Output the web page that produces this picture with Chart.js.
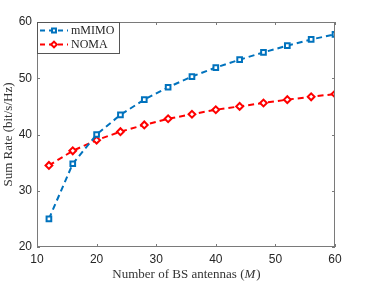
<!DOCTYPE html>
<html>
<head>
<meta charset="utf-8">
<script src="https://cdn.jsdelivr.net/npm/chart.js@4/dist/chart.umd.min.js"></script>
<style>
  html, body { margin: 0; padding: 0; background: #fff; }
  #rateChart { display: block; }
</style>
</head>
<body>
<canvas id="rateChart" width="371" height="283"></canvas>
<script>
// Sum rate vs number of BS antennas
const antennas = [12, 16, 20, 24, 28, 32, 36, 40, 44, 48, 52, 56, 60];
const mmimoRate = [25.0, 34.8, 40.0, 43.5, 46.2, 48.4, 50.3, 51.9, 53.3, 54.6, 55.8, 56.9, 57.8];
const nomaRate = [34.5, 37.1, 39.0, 40.5, 41.7, 42.8, 43.6, 44.4, 45.0, 45.6, 46.2, 46.7, 47.2];
const seriesNames = ['mMIMO', 'NOMA'];
const xTickValues = [10, 20, 30, 40, 50, 60];
const yTickValues = [20, 30, 40, 50, 60];

const axisColor = '#7a7a7a';
const labelColor = '#262626';
const serif = '"Liberation Serif", "DejaVu Serif", serif';

function toPoints(values) {
    return antennas.map((m, i) => ({ x: m, y: values[i] }));
}

// box, inside ticks, axis titles and legend
const framePlugin = {
    id: 'frame',
    afterDraw(chart) {
        const ctx = chart.ctx;
        const area = chart.chartArea;
        const xs = chart.scales.x;
        const ys = chart.scales.y;

        ctx.save();
        ctx.strokeStyle = axisColor;
        ctx.lineWidth = 1;
        ctx.strokeRect(area.left + 0.5, area.top + 0.5, area.right - area.left - 1, area.bottom - area.top - 1);

        ctx.beginPath();
        xTickValues.forEach(v => {
            const px = Math.round(xs.getPixelForValue(v)) + 0.5;
            ctx.moveTo(px, area.bottom);
            ctx.lineTo(px, area.bottom - 3);
            ctx.moveTo(px, area.top);
            ctx.lineTo(px, area.top + 3);
        });
        yTickValues.forEach(v => {
            const py = Math.round(ys.getPixelForValue(v)) + 0.5;
            ctx.moveTo(area.left, py);
            ctx.lineTo(area.left + 3, py);
            ctx.moveTo(area.right, py);
            ctx.lineTo(area.right - 3, py);
        });
        ctx.stroke();

        // x title with italic M
        ctx.fillStyle = '#333';
        ctx.textBaseline = 'middle';
        ctx.textAlign = 'left';
        const normalFont = '13px ' + serif;
        const italicFont = 'italic 13px ' + serif;
        const partA = 'Number of BS antennas (';
        const partB = 'M';
        const partC = ')';
        ctx.font = normalFont;
        const wA = ctx.measureText(partA).width;
        const wC = ctx.measureText(partC).width;
        ctx.font = italicFont;
        const wB = ctx.measureText(partB).width;
        let tx = (area.left + area.right) / 2 - (wA + wB + wC) / 2;
        const ty = 275;
        ctx.font = normalFont;
        ctx.fillText(partA, tx, ty);
        ctx.font = italicFont;
        ctx.fillText(partB, tx + wA, ty);
        ctx.font = normalFont;
        ctx.fillText(partC, tx + wA + wB + 1, ty);

        // y title
        ctx.save();
        ctx.translate(9, (area.top + area.bottom) / 2);
        ctx.rotate(-Math.PI / 2);
        ctx.textAlign = 'center';
        ctx.font = normalFont;
        ctx.fillText('Sum Rate (bit/s/Hz)', 0, 0);
        ctx.restore();

        // legend box
        const lx = area.left, ly = area.top;
        const lw = 82, lh = 31;
        ctx.fillStyle = '#fff';
        ctx.fillRect(lx + 0.5, ly + 0.5, lw, lh);
        ctx.strokeStyle = '#555';
        ctx.strokeRect(lx + 0.5, ly + 0.5, lw, lh);

        chart.data.datasets.forEach((ds, i) => {
            const rowY = ly + 8.5 + i * 14;
            ctx.save();
            ctx.strokeStyle = ds.borderColor;
            ctx.lineWidth = ds.borderWidth;
            ctx.setLineDash([5, 4]);
            ctx.beginPath();
            ctx.moveTo(lx + 3, rowY);
            ctx.lineTo(lx + 31, rowY);
            ctx.stroke();
            ctx.restore();

            ctx.save();
            ctx.strokeStyle = ds.pointBorderColor;
            ctx.fillStyle = ds.pointBackgroundColor;
            ctx.lineWidth = ds.pointBorderWidth;
            Chart.helpers.drawPoint(ctx, {
                pointStyle: ds.pointStyle,
                radius: ds.pointRadius - 0.5,
                borderWidth: ds.pointBorderWidth,
                rotation: 0
            }, lx + 17, rowY);
            ctx.restore();

            ctx.fillStyle = labelColor;
            ctx.font = '12px ' + serif;
            ctx.textAlign = 'left';
            ctx.textBaseline = 'middle';
            ctx.fillText(ds.label, lx + 34, rowY + 0.5);
        });
        ctx.restore();
    }
};

const ctx = document.getElementById('rateChart').getContext('2d');
new Chart(ctx, {
    type: 'line',
    data: {
        datasets: [{
            label: seriesNames[0],
            data: toPoints(mmimoRate),
            borderColor: '#0072BD',
            borderWidth: 2,
            borderDash: [6, 4],
            pointStyle: 'rect',
            pointRadius: 3.3,
            pointBorderWidth: 2,
            pointBorderColor: '#0072BD',
            pointBackgroundColor: '#ffffff',
            fill: false,
            tension: 0
        }, {
            label: seriesNames[1],
            data: toPoints(nomaRate),
            borderColor: '#FF0000',
            borderWidth: 2,
            borderDash: [6, 4],
            pointStyle: 'rectRot',
            pointRadius: 3.4,
            pointBorderWidth: 2,
            pointBorderColor: '#FF0000',
            pointBackgroundColor: '#ffffff',
            fill: false,
            tension: 0
        }]
    },
    options: {
        responsive: false,
        animation: false,
        layout: {
            padding: { top: 22, right: 36, left: 0, bottom: 0 }
        },
        plugins: {
            legend: { display: false },
            tooltip: { enabled: false }
        },
        scales: {
            x: {
                type: 'linear',
                min: 10,
                max: 60,
                afterFit: function(scale) { scale.height = 36; },
                afterBuildTicks: function(scale) {
                    scale.ticks = xTickValues.map(v => ({ value: v }));
                },
                ticks: {
                    color: labelColor,
                    font: { family: '"Liberation Sans", Arial, sans-serif', size: 12 },
                    padding: 5,
                    maxRotation: 0
                },
                grid: { display: false, drawTicks: false },
                border: { display: false }
            },
            y: {
                type: 'linear',
                min: 20,
                max: 60,
                afterFit: function(scale) { scale.width = 37; },
                afterBuildTicks: function(scale) {
                    scale.ticks = yTickValues.map(v => ({ value: v }));
                },
                ticks: {
                    color: labelColor,
                    font: { family: '"Liberation Sans", Arial, sans-serif', size: 12 },
                    padding: 5
                },
                grid: { display: false, drawTicks: false },
                border: { display: false }
            }
        }
    },
    plugins: [framePlugin]
});
</script>
</body>
</html>
